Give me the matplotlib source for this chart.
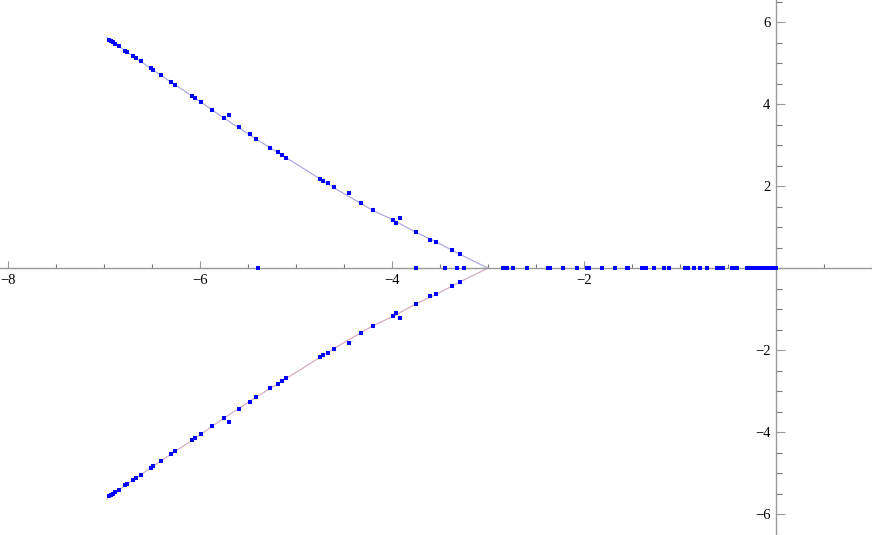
"""Root locus style plot: two complex branches leaving -3 and roots on the real axis."""

import matplotlib.pyplot as plt
import numpy as np
from matplotlib.ticker import FixedLocator, MultipleLocator

# upper branch curve (lower branch is its conjugate)
curve_x = [-3.0, -3.29, -3.54, -3.75, -3.99, -4.20, -4.61, -4.75, -5.10,
           -5.42, -5.75, -6.08, -6.41, -6.78, -6.97]
curve_y = [0.0, 0.334, 0.641, 0.871, 1.178, 1.407, 1.968, 2.178, 2.690,
           3.154, 3.659, 4.195, 4.707, 5.300, 5.634]

# roots on the upper branch
root_x = [-6.945, -6.927, -6.909, -6.882, -6.841, -6.778, -6.757, -6.695,
          -6.664, -6.615, -6.514, -6.493, -6.406, -6.299, -6.257, -6.080,
          -6.049, -5.986, -5.872, -5.745, -5.693, -5.591, -5.482, -5.420,
          -5.268, -5.188, -5.143, -5.104, -4.750, -4.716, -4.670, -4.607,
          -4.451, -4.326, -4.201, -3.990, -3.958, -3.920, -3.750, -3.607,
          -3.539, -3.378, -3.292]
root_y = [5.568, 5.544, 5.520, 5.471, 5.415, 5.300, 5.261, 5.171,
          5.122, 5.041, 4.878, 4.837, 4.707, 4.537, 4.471, 4.195,
          4.139, 4.041, 3.861, 3.659, 3.744, 3.432, 3.268, 3.154,
          2.934, 2.822, 2.749, 2.690, 2.178, 2.129, 2.066, 1.968,
          1.822, 1.578, 1.407, 1.178, 1.105, 1.212, 0.871, 0.690,
          0.641, 0.439, 0.334]

# roots on the real axis
real_roots = [-5.40, -3.753, -3.445, -3.320, -3.247,
              -2.847, -2.805, -2.743, -2.597, -2.372, -2.354, -2.216, -2.076,
              -1.966, -1.945, -1.816, -1.677, -1.555, -1.539, -1.399, -1.375,
              -1.354, -1.271, -1.167, -1.111, -0.948, -0.917, -0.854, -0.792,
              -0.716, -0.618, -0.583, -0.549, -0.461, -0.438, -0.406, -0.30,
              -0.27, -0.24, -0.21, -0.18, -0.15, -0.12, -0.09, -0.06, -0.04,
              -0.02, 0.0]

x_major = [-8, -6, -4, -2]
y_major = [-6, -4, -2, 2, 4, 6]


def main() -> None:
    """Draw and save the figure."""
    plt.rcParams["font.family"] = ["Liberation Serif", "DejaVu Serif"]
    fig = plt.figure(figsize=(8.72, 5.35), dpi=100)
    ax = fig.add_axes([0, 0, 1, 1])

    cx = np.array(curve_x)
    cy = np.array(curve_y)
    ax.plot(cx, cy, color="#a3a3e0", lw=0.8, zorder=2)
    ax.plot(cx, -cy, color="#d4a3bd", lw=0.8, zorder=2)

    rx = np.array(root_x)
    ry = np.array(root_y)
    dot = dict(ls="none", marker="s", ms=2.3, mew=0, color="#0000ff", zorder=3)
    ax.plot(rx, ry, **dot)
    ax.plot(rx, -ry, **dot)
    ax.plot(real_roots, np.zeros(len(real_roots)), **dot)

    ax.set_xlim(-8.083, 1.0)
    ax.set_ylim(-6.51, 6.54)

    for side in ("top", "right"):
        ax.spines[side].set_visible(False)
    ax.spines["left"].set_position(("data", 0))
    ax.spines["bottom"].set_position(("data", 0))
    for side in ("left", "bottom"):
        ax.spines[side].set_color("#999999")
        ax.spines[side].set_linewidth(1.0)

    ax.xaxis.set_major_locator(FixedLocator(x_major))
    ax.yaxis.set_major_locator(FixedLocator(y_major))
    ax.xaxis.set_minor_locator(MultipleLocator(0.5))
    ax.yaxis.set_minor_locator(MultipleLocator(0.5))
    ax.set_xticklabels(["\u2212" + str(abs(v)) for v in x_major])
    ax.set_yticklabels([("\u2212" if v < 0 else "") + str(abs(v)) for v in y_major])

    ax.tick_params(which="major", direction="in", length=5, width=0.8,
                   color="#999999", labelsize=10.5, pad=4)
    ax.tick_params(which="minor", direction="in", length=3, width=0.8,
                   color="#777777")
    ax.tick_params(axis="y", which="major", length=6.5)
    ax.tick_params(axis="y", which="minor", length=4)

    fig.savefig("out.png", dpi=100)


if __name__ == "__main__":
    main()
